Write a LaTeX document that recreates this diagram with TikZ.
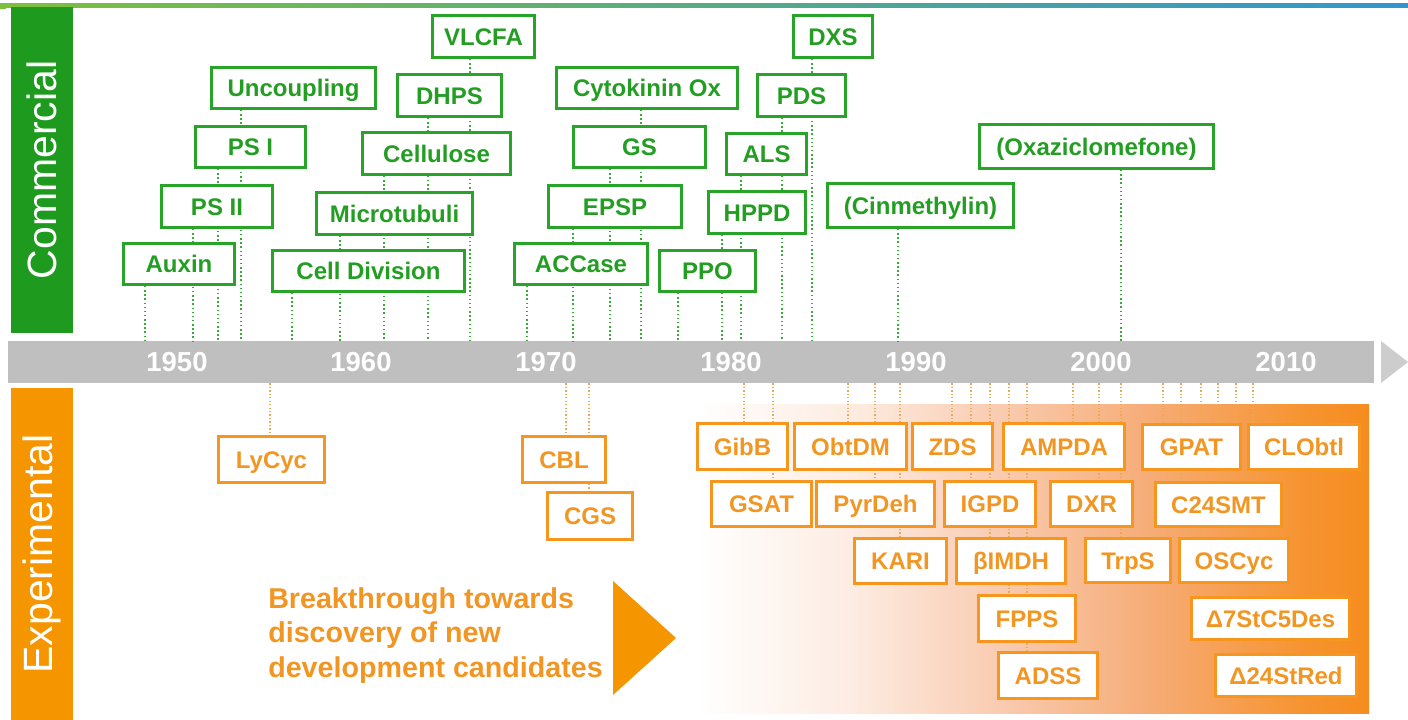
\documentclass[tikz,border=0pt]{standalone}
\usepackage{fontspec}
\setmainfont{Liberation Sans}
\definecolor{cgbar}{RGB}{30,155,30}
\definecolor{cgline}{RGB}{40,165,40}
\definecolor{cgtext}{RGB}{35,158,35}
\definecolor{cgdot}{RGB}{55,172,55}
\definecolor{cobar}{RGB}{245,150,0}
\definecolor{coline}{RGB}{247,150,30}
\definecolor{cotext}{RGB}{242,150,35}
\definecolor{codot}{RGB}{235,170,80}
\definecolor{caxis}{RGB}{191,191,191}
\definecolor{carrow}{RGB}{205,205,205}
\definecolor{ctopA}{RGB}{125,192,60}
\definecolor{ctopB}{RGB}{100,178,110}
\definecolor{ctopC}{RGB}{50,150,205}
\definecolor{csA}{RGB}{253,236,226}
\definecolor{csB}{RGB}{249,203,176}
\definecolor{csC}{RGB}{246,172,118}
\definecolor{csD}{RGB}{246,148,50}
\definecolor{csE}{RGB}{246,140,30}
\pgfdeclarelayer{back}
\pgfdeclarelayer{lines}
\pgfsetlayers{back,lines,main}
\tikzset{
  box/.style={draw, line width=2.25pt, fill=white, inner sep=0pt,
    font=\bfseries\fontsize{18}{20}\selectfont, text height=12.9pt, text depth=0pt},
  gbox/.style={box, draw=cgline, text=cgtext},
  obox/.style={box, draw=coline, text=cotext},
  gdot/.style={cgdot, line width=1.4pt, dash pattern=on 1.1pt off 2pt},
  odot/.style={codot, line width=1pt, dash pattern=on 1pt off 1.6pt},
  year/.style={text=white, font=\bfseries\fontsize{20.6}{22}\selectfont, inner sep=0pt,
    text height=14.7pt, text depth=0pt},
  sidebar/.style={inner sep=0pt, text=white, rotate=90,
    font=\fontsize{30.7}{32}\selectfont, minimum height=62*0.75pt},
  brk/.style={anchor=base west, inner sep=0pt, text=cotext,
    font=\bfseries\fontsize{21.5}{24}\selectfont}
}
\newcommand\bx[7]{\node[#1, minimum width={(#5-#3)*0.75pt-2.25pt},
  minimum height={(#6-#4)*0.75pt-2.25pt}] (#2) at ({(#3+#5)/2},{(#4+#6)/2}) {#7};}
\begin{document}
\begin{tikzpicture}[x=0.75pt,y=-0.75pt]
\useasboundingbox (0,0) rectangle (1408,719);
\begin{pgfonlayer}{back}
\fill[white] (0,0) rectangle (1408,719);
\shade[left color=ctopA, middle color=ctopB, right color=ctopC] (0,3) rectangle (1408,7);
\fill[ctopA] (0,7) rectangle (6,9);
\node[sidebar, fill=cgbar, minimum width=326*0.75pt] (com) at (42,170) {Commercial};
\node[sidebar, fill=cobar, minimum width=332*0.75pt] (exp) at (42,554) {Experimental};
% gradient panel
\shade[left color=white, right color=csA] (697,404) rectangle (851,713);
\shade[left color=csA, right color=csB] (850,404) rectangle (1001,713);
\shade[left color=csB, right color=csC] (1000,404) rectangle (1151,713);
\shade[left color=csC, right color=csD] (1150,404) rectangle (1301,713);
\shade[left color=csD, right color=csE] (1300,404) rectangle (1369,713);
% axis
\node[fill=caxis, minimum width=1366*0.75pt, minimum height=42*0.75pt, inner sep=0pt] (axis) at (691,362) {};
\fill[carrow] (1381,341) -- (1381,383) -- (1408,362) -- cycle;
\fill[cobar] (613,581) -- (613,695) -- (676,638) -- cycle;
\end{pgfonlayer}
% years
\node[year] (y1950) at (177,362) {1950};
\node[year] (y1960) at (361,362) {1960};
\node[year] (y1970) at (546,362) {1970};
\node[year] (y1980) at (731,362) {1980};
\node[year] (y1990) at (916,362) {1990};
\node[year] (y2000) at (1101,362) {2000};
\node[year] (y2010) at (1286,362) {2010};
% commercial boxes
\bx{gbox}{Auxin}{122}{242}{236}{286}{Auxin}
\bx{gbox}{PSII}{160}{184}{274}{229}{PS II}
\bx{gbox}{PSI}{194}{125}{307}{169}{PS I}
\bx{gbox}{Uncoupling}{210}{66}{377}{110}{Uncoupling}
\bx{gbox}{CellDiv}{271}{249}{466}{293}{Cell Division}
\bx{gbox}{Microtubuli}{315}{191}{474}{236}{Microtubuli}
\bx{gbox}{Cellulose}{361}{131}{512}{176}{Cellulose}
\bx{gbox}{DHPS}{396}{73}{503}{118}{DHPS}
\bx{gbox}{VLCFA}{431}{14}{536}{59}{VLCFA}
\bx{gbox}{CytOx}{555}{66}{739}{110}{Cytokinin Ox}
\bx{gbox}{GS}{572}{125}{707}{169}{GS}
\bx{gbox}{EPSP}{547}{184}{683}{229}{EPSP}
\bx{gbox}{ACCase}{513}{242}{649}{286}{ACCase}
\bx{gbox}{PPO}{658}{249}{757}{293}{PPO}
\bx{gbox}{HPPD}{707}{190}{807}{235}{HPPD}
\bx{gbox}{ALS}{725}{132}{808}{176}{ALS}
\bx{gbox}{PDS}{756}{73}{847}{118}{PDS}
\bx{gbox}{DXS}{792}{14}{874}{59}{DXS}
\bx{gbox}{Cinm}{826}{182}{1015}{229}{(Cinmethylin)}
\bx{gbox}{Oxaz}{978}{123}{1215}{170}{(Oxaziclomefone)}
% experimental boxes
\bx{obox}{LyCyc}{217}{435}{326}{484}{LyCyc}
\bx{obox}{CBL}{521}{435}{607}{484}{CBL}
\bx{obox}{CGS}{546}{491}{634}{541}{CGS}
\bx{obox}{GibB}{696}{422}{789}{471}{GibB}
\bx{obox}{ObtDM}{793}{422}{908}{471}{ObtDM}
\bx{obox}{ZDS}{911}{422}{994}{471}{ZDS}
\bx{obox}{AMPDA}{1002}{422}{1126}{471}{AMPDA}
\bx{obox}{GPAT}{1141}{423}{1242}{471}{GPAT}
\bx{obox}{CLObtl}{1247}{423}{1361}{471}{CLObtl}
\bx{obox}{GSAT}{710}{480}{813}{528}{GSAT}
\bx{obox}{PyrDeh}{815}{480}{936}{528}{PyrDeh}
\bx{obox}{IGPD}{943}{480}{1037}{528}{IGPD}
\bx{obox}{DXR}{1049}{480}{1134}{528}{DXR}
\bx{obox}{C24SMT}{1154}{481}{1283}{528}{C24SMT}
\bx{obox}{KARI}{853}{537}{948}{585}{KARI}
\bx{obox}{BIMDH}{955}{537}{1067}{585}{βIMDH}
\bx{obox}{TrpS}{1084}{537}{1172}{584}{TrpS}
\bx{obox}{OSCyc}{1178}{537}{1290}{584}{OSCyc}
\bx{obox}{FPPS}{977}{594}{1077}{643}{FPPS}
\bx{obox}{DSeven}{1190}{596}{1351}{641}{Δ7StC5Des}
\bx{obox}{ADSS}{997}{651}{1099}{700}{ADSS}
\bx{obox}{DTwentyFour}{1214}{653}{1358}{698}{Δ24StRed}
% text
\node[brk] (br1) at (268,608) {Breakthrough towards};
\node[brk] (br2) at (268,642) {discovery of new};
\node[brk] (br3) at (268,677) {development candidates};
% connectors
\begin{pgfonlayer}{lines}
\foreach \n/\x in {Auxin/145, PSII/193, PSI/218, Uncoupling/241, CellDiv/292,
  Microtubuli/340, Cellulose/384, DHPS/428, VLCFA/470, ACCase/527, EPSP/573,
  GS/610, CytOx/641, PPO/678, HPPD/722, ALS/741, PDS/782, DXS/812, Cinm/898, Oxaz/1121}
  \draw[gdot] (\n.south -| \x,0) -- (axis.north -| \x,0);
\foreach \n/\x in {LyCyc/270, CBL/566, CGS/589, GibB/744, GSAT/773, ObtDM/848,
  PyrDeh/875, KARI/900, ZDS/952, IGPD/971, BIMDH/990, FPPS/1009, ADSS/1027,
  AMPDA/1073, DXR/1099, TrpS/1121, GPAT/1163, C24SMT/1181, OSCyc/1201,
  GPAT/1218, GPAT/1236, CLObtl/1253}
  \draw[odot] (axis.south -| \x,0) -- (\n.north -| \x,0);
\end{pgfonlayer}
\end{tikzpicture}
\end{document}
